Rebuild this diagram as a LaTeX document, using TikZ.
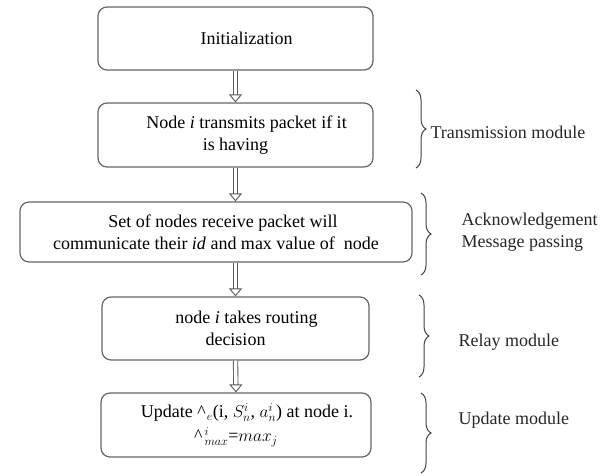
\documentclass[tikz,border=0pt]{standalone}
\usepackage{fontspec}
\setmainfont{Liberation Serif}
\usetikzlibrary{arrows.meta,decorations.pathreplacing}

\begin{document}
\begin{tikzpicture}[
        x=1pt, y=-1pt,
        font=\fontsize{18}{22}\selectfont,
        stepbox/.style={draw=black!60, line width=1.2pt, rounded corners=9pt, align=center, inner sep=0pt},
        flow/.style={draw=black!65, line width=0.9pt, double, double distance=3.5pt, -{Triangle[open, width=13pt, length=8pt]}},
        modbrace/.style={draw=black!75, line width=1pt, decorate, decoration={brace, amplitude=10pt}},
        modlabel/.style={anchor=west, align=left, text=black!85}
    ]
    \useasboundingbox (0,0) rectangle (613,476);

    % flow boxes
    \node[stepbox, minimum width=275pt, minimum height=63pt] (init) at (235.5,38.5)
        {\hspace*{22pt}Initialization};
    \node[stepbox, minimum width=275pt, minimum height=64pt] (transmit) at (235.5,135)
        {\hspace*{22pt}Node \textit{i} transmits packet if it\\ is having};
    \node[stepbox, minimum width=392pt, minimum height=60pt] (receive) at (216,232)
        {\hspace*{14pt}Set of nodes receive packet will\\ communicate their \textit{id} and max value of \ node};
    \node[stepbox, minimum width=267pt, minimum height=63pt] (relay) at (235.5,328.5)
        {\hspace*{22pt}node \textit{i} takes routing\\ decision};
    \node[stepbox, minimum width=270pt, minimum height=64pt] (update) at (236,425)
        {\hspace*{22pt}Update \textasciicircum\kern1pt$_{e}$(i, $S^{i}_{n}$, $a^{i}_{n}$) at node i.\\[2pt]
         \textasciicircum\kern2pt$^{i}_{max}$=$max_{j}$};

    % arrows
    \draw[flow] (init.south) -- (transmit.north);
    \draw[flow] (transmit.south) -- (transmit.south |- receive.north);
    \draw[flow] (transmit.south |- receive.south) -- (relay.north);
    \draw[flow] (relay.south) -- (update.north);

    % module braces
    \coordinate (tbtop) at (416,90);
    \coordinate (tbbot) at (416,168);
    \coordinate (abtop) at (421,193);
    \coordinate (abbot) at (421,275);
    \coordinate (rbtop) at (419,295);
    \coordinate (rbbot) at (419,377);
    \coordinate (ubtop) at (421,393);
    \coordinate (ubbot) at (421,473);
    \draw[modbrace] (tbtop) -- (tbbot);
    \draw[modbrace] (abtop) -- (abbot);
    \draw[modbrace] (rbtop) -- (rbbot);
    \draw[modbrace] (ubtop) -- (ubbot);

    \node[modlabel] (translabel) at (427,132) {Transmission module};
    \node[modlabel] (acklabel) at (458,232) {Acknowledgement\\ Message passing};
    \node[modlabel] (relaylabel) at (455,342) {Relay module};
    \node[modlabel] (updatelabel) at (455,420) {Update module};
\end{tikzpicture}
\end{document}
